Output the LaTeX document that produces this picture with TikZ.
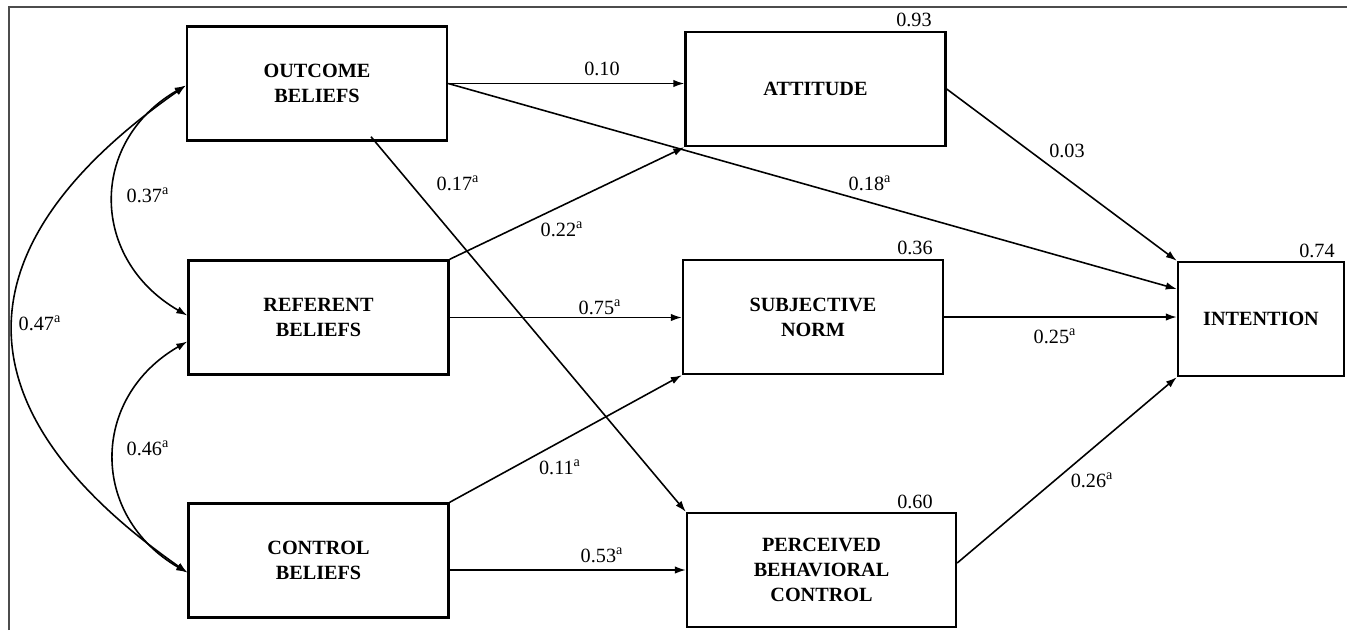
\documentclass[tikz,border=0pt]{standalone}
\usepackage{fontspec}
\setmainfont{Liberation Serif}
\usetikzlibrary{arrows.meta,calc}
\tikzset{
	box/.style={draw, line width=1.4pt, minimum width=5.2cm, minimum height=2.28cm, align=center, font=\fontsize{11.5}{14.2}\selectfont\bfseries},
	link/.style={line width=0.9pt, -{Latex[length=2.2mm,width=1.5mm]}},
	both/.style={line width=0.9pt, {Latex[length=2.2mm,width=1.5mm]}-{Latex[length=2.2mm,width=1.5mm]}},
	lbl/.style={font=\fontsize{11.5}{14}\selectfont, inner sep=0pt}
}
\newcommand{\sa}{\textsuperscript{a}}
\begin{document}
\begin{tikzpicture}[x=0.02cm, y=-0.02cm]
		\useasboundingbox (0, 0) rectangle (1347, 630);
		\draw[gray!60!black, line width=0.7pt] (9, 630) -- (9, 7) -- (1347, 7);
		% beliefs
		\node[box] (ob) at (317, 83.5) {OUTCOME\\BELIEFS};
		\node[box] (rb) at (318.5, 317.5) {REFERENT\\BELIEFS};
		\node[box] (cb) at (318.5, 560.5) {CONTROL\\BELIEFS};
		% attitude, norm, control
		\node[box] (att) at (815.5, 89) {ATTITUDE};
		\node[box] (sn) at (813, 317) {SUBJECTIVE\\NORM};
		\node[box, minimum width=5.38cm] (pbc) at (821.5, 570) {PERCEIVED\\BEHAVIORAL\\CONTROL};
		\node[box, minimum width=3.32cm] (int) at (1261, 319) {INTENTION};
		% R squared
		\node[lbl] (r1) at (914, 20) {0.93};
		\node[lbl] (r2) at (915, 248) {0.36};
		\node[lbl] (r3) at (915, 502) {0.60};
		\node[lbl] (r4) at (1317, 251) {0.74};
		% paths
		\draw[link] (ob.east) -- (ob.east -| att.west);
		\draw[link] (ob.east) -- ($(int.west)+(0, -30)$);
		\draw[link] ($(ob.south)+(54, -5)$) -- (pbc.north west);
		\draw[link] (rb.north east) -- (att.south west);
		\draw[link] (rb.east) -- (rb.east -| sn.west);
		\draw[link] (cb.north east) -- (sn.south west);
		\draw[link] (pbc.west -| cb.east) -- (pbc.west);
		\draw[link] (att.east) -- (int.north west);
		\draw[link] (sn.east) -- (sn.east -| int.west);
		\draw[link] ($(pbc.east)+(0, -7)$) -- (int.south west);
		% correlations
		\draw[both] ($(ob.west)+(0, 2)$) to[out=210, in=150, looseness=1.25] ($(rb.west)+(0, -2)$);
		\draw[both] ($(rb.west)+(0, 24)$) to[out=210, in=150, looseness=1.25] ($(cb.west)+(0, 12)$);
		\draw[both] ($(ob.west)+(0, 2)$) to[out=215, in=145, looseness=1.48] ($(cb.west)+(0, 12)$);
		% coefficients
		\node[lbl] (c1) at (602, 69) {0.10};
		\node[lbl] (c2) at (870, 183) {0.18\sa};
		\node[lbl] (c3) at (458, 183) {0.17\sa};
		\node[lbl] (c4) at (562, 229) {0.22\sa};
		\node[lbl] (c5) at (600, 307) {0.75\sa};
		\node[lbl] (c6) at (560, 467) {0.11\sa};
		\node[lbl] (c7) at (602, 555) {0.53\sa};
		\node[lbl] (c8) at (1067, 151) {0.03};
		\node[lbl] (c9) at (1055, 336) {0.25\sa};
		\node[lbl] (c10) at (1092, 480) {0.26\sa};
		\node[lbl] (k1) at (148, 195) {0.37\sa};
		\node[lbl] (k2) at (148, 448) {0.46\sa};
		\node[lbl] (k3) at (40, 323) {0.47\sa};
	\end{tikzpicture}
\end{document}
